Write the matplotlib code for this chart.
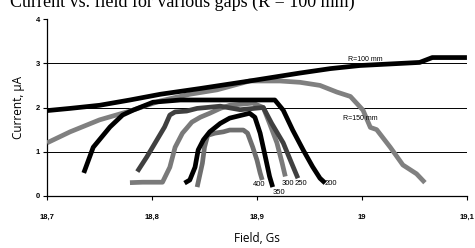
import matplotlib
matplotlib.use("Agg")
import matplotlib.pyplot as plt

# Field values (Gs) and current (uA) for each curve
r100_x = [18.700, 18.722, 18.750, 18.779, 18.808, 18.846, 18.893, 18.941, 18.970, 18.998, 19.055, 19.067, 19.100]
r100_y = [1.93, 1.98, 2.05, 2.17, 2.30, 2.43, 2.60, 2.78, 2.88, 2.95, 3.02, 3.13, 3.13]

r150_x = [18.700, 18.722, 18.750, 18.779, 18.808, 18.836, 18.862, 18.893, 18.922, 18.941, 18.960,
          18.976, 18.989, 19.001, 19.008, 19.014, 19.027, 19.039, 19.052, 19.060]
r150_y = [1.20, 1.45, 1.72, 1.92, 2.15, 2.30, 2.40, 2.60, 2.60, 2.57, 2.50,
          2.35, 2.25, 1.94, 1.55, 1.50, 1.10, 0.70, 0.50, 0.30]

g200_x = [18.735, 18.744, 18.760, 18.772, 18.782, 18.801, 18.827, 18.874, 18.917, 18.925, 18.934,
          18.944, 18.953, 18.960, 18.965]
g200_y = [0.52, 1.10, 1.56, 1.83, 1.94, 2.12, 2.17, 2.17, 2.17, 1.94, 1.49, 1.04, 0.66, 0.40, 0.29]

g250_x = [18.786, 18.795, 18.803, 18.812, 18.817, 18.822, 18.833, 18.843, 18.852, 18.865, 18.884,
          18.906, 18.914, 18.925, 18.933, 18.939]
g250_y = [0.55, 0.88, 1.20, 1.56, 1.83, 1.90, 1.92, 1.98, 2.00, 2.03, 1.95, 2.00, 1.64, 1.20, 0.74, 0.40]

g300_x = [18.779, 18.791, 18.810, 18.817, 18.822, 18.829, 18.833, 18.838, 18.846, 18.855, 18.865,
          18.874, 18.896, 18.906, 18.912, 18.919, 18.924, 18.927]
g300_y = [0.30, 0.31, 0.31, 0.65, 1.10, 1.42, 1.53, 1.67, 1.78, 1.87, 1.98,
          2.05, 2.10, 2.00, 1.64, 1.20, 0.74, 0.44]

g350_x = [18.831, 18.836, 18.841, 18.844, 18.849, 18.855, 18.865, 18.874, 18.893, 18.898, 18.903,
          18.908, 18.912, 18.915]
g350_y = [0.29, 0.36, 0.65, 1.04, 1.27, 1.45, 1.64, 1.76, 1.87, 1.78, 1.42, 0.88, 0.44, 0.20]

g400_x = [18.843, 18.848, 18.850, 18.853, 18.860, 18.868, 18.874, 18.887, 18.891, 18.896, 18.900,
          18.903, 18.905]
g400_y = [0.20, 0.74, 1.10, 1.37, 1.42, 1.45, 1.49, 1.49, 1.42, 1.10, 0.81, 0.52, 0.36]

x_ticks = [18.7, 18.8, 18.9, 19.0, 19.1]
x_tick_labels = ["18,7", "18,8", "18,9", "19", "19,1"]
y_ticks = [0, 1, 2, 3, 4]

small = ["Liberation Sans Narrow", "Liberation Sans", "DejaVu Sans"]

fig = plt.figure(figsize=(4.75, 2.48), dpi=100)
ax = fig.add_axes([0.099, 0.21, 0.884, 0.713])

# horizontal grid lines
for yv in [1, 2, 3]:
    ax.axhline(yv, color="black", lw=0.7, zorder=1)

lw = 3.4
ax.plot(r150_x, r150_y, color="#808080", lw=lw, zorder=3, solid_capstyle="butt")
ax.plot(g400_x, g400_y, color="#6e6e6e", lw=lw, zorder=3, solid_capstyle="butt")
ax.plot(g300_x, g300_y, color="#7a7a7a", lw=lw, zorder=3, solid_capstyle="butt")
ax.plot(g250_x, g250_y, color="#404040", lw=lw, zorder=3, solid_capstyle="butt")
ax.plot(g350_x, g350_y, color="black", lw=lw, zorder=4, solid_capstyle="butt")
ax.plot(g200_x, g200_y, color="black", lw=lw, zorder=4, solid_capstyle="butt")
ax.plot(r100_x, r100_y, color="black", lw=lw, zorder=5, solid_capstyle="butt")

# curve labels
ax.text(19.003, 3.09, "R=100 mm", fontsize=5, family=small, ha="center", va="center", zorder=2)
ax.text(18.998, 1.76, "R=150 mm", fontsize=5, family=small, ha="center", va="center", zorder=6)
for lx, ly, t in [(18.970, 0.29, "200"), (18.942, 0.29, "250"), (18.929, 0.29, "300"),
                  (18.921, 0.07, "350"), (18.902, 0.25, "400")]:
    ax.text(lx, ly, t, fontsize=5.5, family=small, ha="center", va="center", zorder=6)

ax.set_xlim(18.7, 19.1)
ax.set_ylim(0, 4)
ax.set_xticks(x_ticks)
ax.set_xticklabels(x_tick_labels, fontsize=5.5, family=small, fontweight="bold")
ax.set_yticks(y_ticks)
ax.set_yticklabels([str(v) for v in y_ticks], fontsize=5.5, family=small, fontweight="bold")
ax.tick_params(axis="x", length=3, width=0.8, pad=10)
ax.tick_params(axis="y", length=3, width=0.8, pad=2)
ax.spines["top"].set_visible(False)
ax.spines["right"].set_visible(False)
ax.spines["left"].set_linewidth(0.9)
ax.spines["bottom"].set_linewidth(0.9)

ax.set_xlabel("Field, Gs", fontsize=8.5, family=["Open Sans", "DejaVu Sans"], labelpad=8)
ax.set_ylabel("Current, µA", fontsize=8.5, family=["Open Sans", "DejaVu Sans"], labelpad=8)

# title text cut by the top edge
fig.text(0.02, 0.974, "Current vs. field for various gaps (R = 100 mm)", fontsize=13,
         family=["Liberation Serif", "DejaVu Serif"], ha="left", va="baseline")

fig.savefig("out.png", dpi=100)
